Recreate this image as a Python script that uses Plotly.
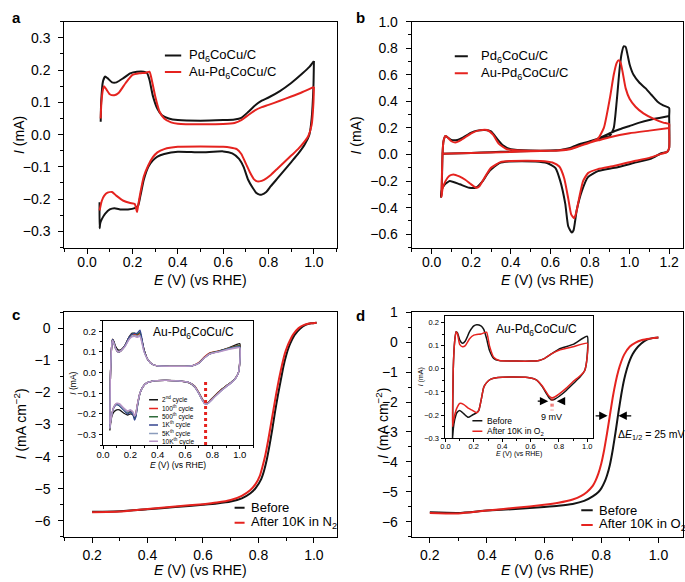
import plotly.graph_objects as go

W, H = 685, 582
FONT = "Liberation Sans, Arial, Helvetica, sans-serif"
BLACK = "#141414"
RED = "#e5231f"

# ---------------- Panel a : CV in N2 ----------------
a_pd_an_E = [0.06,0.062,0.07,0.08,0.09,0.11,0.13,0.16,0.19,0.22,0.25,0.265,0.275,0.29,0.31,0.33,0.36,0.40,0.5,0.6,0.65,0.68,0.71,0.74,0.77,0.8,0.85,0.9,0.95,0.98,1.0]
a_pd_an_I = [0.04,0.10,0.165,0.18,0.175,0.162,0.162,0.175,0.19,0.195,0.195,0.19,0.17,0.12,0.08,0.06,0.05,0.045,0.043,0.045,0.047,0.052,0.07,0.09,0.105,0.115,0.135,0.16,0.19,0.21,0.228]
a_pd_ca_E = [1.0,0.998,0.99,0.98,0.96,0.93,0.9,0.87,0.84,0.81,0.79,0.77,0.76,0.745,0.73,0.71,0.69,0.67,0.64,0.6,0.5,0.4,0.34,0.31,0.29,0.27,0.25,0.235,0.225,0.21,0.18,0.15,0.12,0.1,0.08,0.065,0.058,0.055,0.055]
a_pd_ca_I = [0.228,0.15,0.05,0.0,-0.03,-0.06,-0.085,-0.11,-0.135,-0.16,-0.178,-0.186,-0.186,-0.18,-0.165,-0.14,-0.1,-0.075,-0.058,-0.052,-0.055,-0.053,-0.06,-0.068,-0.08,-0.1,-0.14,-0.19,-0.22,-0.228,-0.232,-0.232,-0.228,-0.232,-0.245,-0.262,-0.275,-0.29,-0.21]
a_au_an_E = [0.06,0.063,0.07,0.075,0.085,0.1,0.12,0.14,0.17,0.2,0.23,0.26,0.275,0.285,0.3,0.32,0.34,0.37,0.4,0.5,0.6,0.65,0.68,0.71,0.74,0.77,0.8,0.85,0.9,0.95,1.0]
a_au_an_I = [0.05,0.10,0.14,0.15,0.14,0.125,0.122,0.13,0.16,0.185,0.19,0.192,0.195,0.17,0.12,0.07,0.05,0.038,0.034,0.032,0.033,0.036,0.045,0.06,0.075,0.085,0.092,0.105,0.118,0.132,0.148]
a_au_ca_E = [1.0,0.998,0.99,0.975,0.96,0.93,0.9,0.87,0.84,0.81,0.78,0.76,0.75,0.735,0.72,0.7,0.68,0.66,0.63,0.6,0.5,0.4,0.34,0.31,0.29,0.27,0.25,0.235,0.225,0.22,0.21,0.19,0.16,0.13,0.11,0.09,0.075,0.065,0.058,0.055]
a_au_ca_I = [0.148,0.1,0.03,-0.005,-0.02,-0.045,-0.065,-0.085,-0.105,-0.125,-0.14,-0.145,-0.145,-0.138,-0.12,-0.09,-0.06,-0.045,-0.04,-0.038,-0.037,-0.038,-0.045,-0.055,-0.07,-0.095,-0.13,-0.18,-0.22,-0.24,-0.215,-0.212,-0.205,-0.19,-0.178,-0.18,-0.19,-0.205,-0.225,-0.235]

# ---------------- Panel b : CO stripping ----------------
b_pd_E = [0.05,0.1,0.2,0.3,0.4,0.5,0.6,0.65,0.7,0.75,0.8,0.85,0.9,0.92,0.935,0.95,0.96,0.97,0.98,0.99,1.0,1.02,1.05,1.08,1.11,1.14,1.17,1.2,
          1.2,1.2,1.19,1.16,1.11,1.02,0.925,0.84,0.79,0.76,0.733,0.717,0.708,0.69,0.675,0.65,0.625,0.583,0.525,0.39,0.342,0.292,0.258,0.225,0.19,0.142,0.092,0.067,0.05,0.047,
          0.05,0.055,0.06,0.07,0.08,0.1,0.13,0.16,0.2,0.23,0.27,0.3,0.33,0.36,0.4,0.5,0.6,0.65,0.7,0.75,0.8,0.85,0.9,0.95,1.0,1.05,1.1,1.15,1.2]
b_pd_I = [0.005,0.008,0.012,0.018,0.022,0.026,0.03,0.035,0.045,0.07,0.1,0.12,0.14,0.2,0.4,0.65,0.76,0.815,0.81,0.75,0.68,0.6,0.54,0.5,0.45,0.4,0.37,0.35,
          0.29,0.05,0.02,0.01,-0.03,-0.064,-0.1,-0.125,-0.17,-0.27,-0.42,-0.57,-0.587,-0.54,-0.37,-0.2,-0.1,-0.064,-0.052,-0.052,-0.064,-0.125,-0.2,-0.248,-0.25,-0.224,-0.2,-0.224,-0.27,-0.32,
          -0.3,0.0,0.1,0.14,0.13,0.11,0.11,0.13,0.165,0.18,0.185,0.175,0.12,0.07,0.04,0.03,0.03,0.035,0.05,0.08,0.1,0.125,0.16,0.19,0.215,0.24,0.26,0.275,0.29]
b_au_E = [0.05,0.1,0.2,0.3,0.4,0.5,0.6,0.65,0.7,0.75,0.8,0.84,0.87,0.9,0.92,0.935,0.945,0.955,0.965,0.98,1.0,1.03,1.07,1.12,1.17,1.2,
          1.2,1.2,1.19,1.16,1.1,1.02,0.925,0.84,0.79,0.765,0.745,0.73,0.72,0.705,0.69,0.67,0.645,0.61,0.55,0.4,0.35,0.3,0.265,0.24,0.225,0.2,0.17,0.14,0.11,0.09,0.07,0.055,0.05,
          0.05,0.055,0.06,0.07,0.08,0.1,0.12,0.15,0.2,0.24,0.28,0.31,0.34,0.38,0.45,0.55,0.65,0.7,0.75,0.8,0.85,0.9,1.0,1.1,1.2]
b_au_I = [0.005,0.008,0.012,0.016,0.02,0.024,0.028,0.033,0.042,0.065,0.09,0.12,0.2,0.42,0.6,0.69,0.71,0.69,0.62,0.5,0.42,0.36,0.31,0.27,0.24,0.23,
          0.2,0.05,0.02,0.005,-0.025,-0.05,-0.085,-0.11,-0.14,-0.2,-0.33,-0.44,-0.48,-0.45,-0.33,-0.18,-0.09,-0.06,-0.048,-0.048,-0.055,-0.1,-0.18,-0.24,-0.25,-0.225,-0.19,-0.165,-0.15,-0.16,-0.2,-0.26,-0.32,
          -0.3,0.0,0.1,0.14,0.13,0.1,0.09,0.11,0.16,0.182,0.185,0.15,0.08,0.04,0.03,0.028,0.03,0.04,0.065,0.09,0.11,0.13,0.16,0.18,0.2]

# ---------------- Panel c : ORR LSV before / after 10K in N2 ----------------
c_before_E = [0.2,0.3,0.4,0.5,0.6,0.65,0.7,0.74,0.77,0.79,0.81,0.82,0.83,0.84,0.85,0.86,0.87,0.88,0.89,0.9,0.91,0.92,0.93,0.95,0.97,0.99,1.01]
c_before_I = [-5.72,-5.7,-5.64,-5.57,-5.5,-5.46,-5.4,-5.3,-5.15,-4.98,-4.7,-4.45,-4.1,-3.65,-3.15,-2.6,-2.1,-1.65,-1.2,-0.85,-0.58,-0.38,-0.22,-0.02,0.1,0.15,0.17]
c_after_E = [0.2,0.3,0.4,0.5,0.6,0.65,0.7,0.74,0.77,0.79,0.805,0.815,0.825,0.835,0.845,0.855,0.865,0.875,0.885,0.895,0.905,0.915,0.925,0.945,0.965,0.99,1.01]
c_after_I = [-5.73,-5.71,-5.63,-5.55,-5.48,-5.43,-5.35,-5.22,-5.05,-4.85,-4.6,-4.3,-3.95,-3.5,-3.0,-2.5,-2.0,-1.55,-1.15,-0.8,-0.55,-0.36,-0.2,0.0,0.1,0.15,0.17]

# ---------------- Panel d : ORR LSV before / after 10K in O2 ----------------
d_before_E = [0.2,0.3,0.4,0.5,0.6,0.65,0.7,0.74,0.77,0.79,0.8,0.81,0.82,0.83,0.84,0.85,0.86,0.87,0.88,0.89,0.9,0.91,0.92,0.94,0.96,0.98,1.0]
d_before_I = [-5.68,-5.7,-5.62,-5.57,-5.5,-5.46,-5.4,-5.3,-5.15,-5.0,-4.88,-4.7,-4.45,-4.1,-3.6,-3.0,-2.35,-1.75,-1.25,-0.88,-0.6,-0.4,-0.25,-0.05,0.08,0.13,0.15]
d_after_E = [0.2,0.3,0.4,0.5,0.6,0.65,0.7,0.73,0.75,0.77,0.78,0.79,0.8,0.81,0.82,0.83,0.84,0.85,0.86,0.87,0.88,0.9,0.92,0.94,0.96,0.98,1.0]
d_after_I = [-5.7,-5.72,-5.62,-5.53,-5.43,-5.36,-5.25,-5.13,-5.0,-4.8,-4.62,-4.38,-4.05,-3.6,-3.05,-2.45,-1.85,-1.35,-0.95,-0.65,-0.42,-0.15,-0.02,0.06,0.1,0.13,0.15]

# ---------------- Inset c : CV cycles of Au-Pd6CoCu/C ----------------
ic_E = [0.05,0.055,0.065,0.07,0.08,0.09,0.11,0.13,0.16,0.19,0.21,0.23,0.25,0.27,0.28,0.3,0.33,0.36,0.4,0.5,0.6,0.65,0.7,0.74,0.78,0.85,0.92,1.0,
        1.0,0.99,0.97,0.94,0.9,0.86,0.82,0.79,0.77,0.755,0.74,0.72,0.7,0.67,0.63,0.55,0.45,0.37,0.32,0.29,0.27,0.25,0.24,0.23,0.22,0.2,0.18,0.15,0.12,0.1,0.08,0.065,0.055,0.05]
ic_2nd = [-0.26,0.0,0.14,0.16,0.15,0.13,0.11,0.11,0.13,0.17,0.19,0.19,0.185,0.19,0.17,0.11,0.06,0.04,0.032,0.03,0.03,0.032,0.045,0.07,0.09,0.105,0.12,0.14,
          0.06,0.0,-0.025,-0.045,-0.065,-0.085,-0.11,-0.13,-0.145,-0.15,-0.145,-0.125,-0.1,-0.07,-0.05,-0.04,-0.038,-0.04,-0.05,-0.07,-0.1,-0.16,-0.2,-0.22,-0.205,-0.2,-0.205,-0.195,-0.18,-0.18,-0.19,-0.21,-0.25,-0.28]
ic_100th = [-0.25,0.0,0.14,0.16,0.145,0.12,0.1,0.105,0.13,0.17,0.185,0.185,0.18,0.19,0.17,0.11,0.06,0.04,0.032,0.03,0.03,0.033,0.048,0.075,0.095,0.105,0.118,0.13,
            0.05,0.0,-0.025,-0.045,-0.065,-0.085,-0.11,-0.13,-0.145,-0.148,-0.142,-0.12,-0.095,-0.065,-0.048,-0.04,-0.038,-0.04,-0.05,-0.07,-0.1,-0.16,-0.2,-0.21,-0.195,-0.185,-0.19,-0.175,-0.155,-0.15,-0.165,-0.2,-0.24,-0.27]
ic_500th = [-0.25,0.0,0.14,0.16,0.145,0.12,0.1,0.105,0.13,0.17,0.185,0.19,0.185,0.195,0.17,0.11,0.06,0.04,0.032,0.03,0.03,0.033,0.046,0.072,0.093,0.104,0.118,0.13,
            0.05,0.0,-0.025,-0.045,-0.065,-0.087,-0.112,-0.132,-0.146,-0.15,-0.145,-0.122,-0.097,-0.066,-0.048,-0.04,-0.038,-0.04,-0.05,-0.07,-0.1,-0.17,-0.21,-0.22,-0.2,-0.19,-0.195,-0.18,-0.16,-0.152,-0.165,-0.2,-0.24,-0.27]
ic_1k = [-0.26,0.0,0.14,0.16,0.145,0.12,0.1,0.105,0.13,0.17,0.185,0.19,0.19,0.205,0.18,0.11,0.06,0.04,0.032,0.03,0.03,0.033,0.045,0.07,0.09,0.103,0.116,0.125,
         0.05,0.0,-0.027,-0.048,-0.068,-0.09,-0.115,-0.135,-0.148,-0.152,-0.148,-0.125,-0.1,-0.068,-0.048,-0.04,-0.038,-0.04,-0.05,-0.07,-0.1,-0.17,-0.215,-0.23,-0.205,-0.19,-0.2,-0.18,-0.16,-0.155,-0.17,-0.2,-0.24,-0.27]
ic_5k = [-0.25,0.0,0.14,0.155,0.14,0.12,0.1,0.105,0.125,0.16,0.175,0.18,0.175,0.18,0.16,0.1,0.06,0.04,0.032,0.03,0.03,0.033,0.045,0.07,0.09,0.102,0.114,0.122,
         0.05,0.0,-0.027,-0.048,-0.068,-0.09,-0.115,-0.135,-0.148,-0.152,-0.148,-0.125,-0.1,-0.068,-0.048,-0.04,-0.038,-0.04,-0.05,-0.07,-0.1,-0.16,-0.2,-0.21,-0.195,-0.18,-0.19,-0.175,-0.155,-0.15,-0.165,-0.2,-0.24,-0.27]
ic_10k = [-0.25,0.0,0.14,0.155,0.14,0.118,0.1,0.105,0.125,0.16,0.172,0.175,0.17,0.175,0.155,0.1,0.06,0.04,0.032,0.03,0.03,0.033,0.045,0.07,0.09,0.1,0.112,0.12,
          0.05,0.0,-0.027,-0.048,-0.068,-0.09,-0.115,-0.135,-0.148,-0.152,-0.148,-0.125,-0.1,-0.068,-0.048,-0.04,-0.038,-0.04,-0.05,-0.07,-0.1,-0.16,-0.2,-0.21,-0.19,-0.18,-0.185,-0.17,-0.15,-0.148,-0.165,-0.2,-0.24,-0.27]
ic_labels = ["2<sup>nd</sup> cycle", "100<sup>th</sup> cycle", "500<sup>th</sup> cycle",
             "1K<sup>th</sup> cycle", "5K<sup>th</sup> cycle", "10K<sup>th</sup> cycle"]
ic_colors = [BLACK, RED, "#2f6b3b", "#34448f", "#8b9cbc", "#b894c6"]
ic_peak_E = 0.75

# ---------------- Inset d : CV before / after 10K in O2 ----------------
id_E = [0.05,0.055,0.065,0.075,0.085,0.1,0.12,0.14,0.17,0.2,0.22,0.25,0.27,0.29,0.31,0.34,0.38,0.5,0.6,0.66,0.7,0.75,0.8,0.9,1.0,
        0.995,0.98,0.95,0.9,0.85,0.8,0.77,0.75,0.73,0.71,0.68,0.64,0.58,0.45,0.37,0.32,0.29,0.27,0.25,0.235,0.22,0.19,0.16,0.13,0.1,0.08,0.065,0.055,0.05]
id_before = [-0.3,0.0,0.12,0.16,0.155,0.125,0.11,0.12,0.16,0.185,0.19,0.185,0.17,0.13,0.08,0.045,0.035,0.033,0.033,0.036,0.045,0.065,0.085,0.105,0.14,
             0.03,-0.01,-0.035,-0.065,-0.095,-0.12,-0.132,-0.135,-0.125,-0.105,-0.075,-0.048,-0.038,-0.036,-0.038,-0.045,-0.06,-0.08,-0.14,-0.18,-0.19,-0.2,-0.21,-0.195,-0.18,-0.19,-0.22,-0.26,-0.3]
id_after = [-0.25,0.0,0.12,0.16,0.15,0.105,0.095,0.1,0.13,0.145,0.148,0.15,0.155,0.158,0.1,0.05,0.036,0.033,0.033,0.036,0.045,0.065,0.08,0.095,0.11,
            0.03,-0.01,-0.03,-0.055,-0.085,-0.11,-0.122,-0.125,-0.118,-0.1,-0.072,-0.048,-0.038,-0.036,-0.038,-0.045,-0.06,-0.08,-0.14,-0.18,-0.19,-0.18,-0.17,-0.155,-0.15,-0.17,-0.2,-0.23,-0.25]
id_peak_E = [0.745, 0.758]

fig = go.Figure()

def add(x, y, n, color, width=2.0):
    fig.add_trace(go.Scatter(x=x, y=y, xaxis="x" + n, yaxis="y" + n, mode="lines",
                             line=dict(color=color, width=width, shape="spline", smoothing=0.5),
                             showlegend=False, hoverinfo="skip"))

# a
add(a_pd_an_E, a_pd_an_I, "", BLACK)
add(a_pd_ca_E, a_pd_ca_I, "", BLACK)
add(a_au_an_E, a_au_an_I, "", RED)
add(a_au_ca_E, a_au_ca_I, "", RED)
# b
add(b_pd_E, b_pd_I, "2", BLACK)
add(b_au_E, b_au_I, "2", RED)
# c
add(c_before_E, c_before_I, "3", BLACK)
add(c_after_E, c_after_I, "3", RED)
# d
add(d_before_E, d_before_I, "4", BLACK)
add(d_after_E, d_after_I, "4", RED)
# inset c
for ys, col in zip([ic_2nd, ic_100th, ic_500th, ic_1k, ic_5k, ic_10k], ic_colors):
    add(ic_E, ys, "5", col, 1.3)
fig.add_trace(go.Scatter(x=[ic_peak_E, ic_peak_E], y=[-0.045, -0.35], xaxis="x5", yaxis="y5",
                         mode="lines", line=dict(color=RED, width=3, dash="dot"),
                         showlegend=False, hoverinfo="skip"))
# inset d
add(id_E, id_before, "6", BLACK, 1.5)
add(id_E, id_after, "6", RED, 1.5)
for e in id_peak_E:
    fig.add_trace(go.Scatter(x=[e, e], y=[-0.125, -0.18], xaxis="x6", yaxis="y6",
                             mode="lines", line=dict(color=RED, width=1, dash="dot"),
                             showlegend=False, hoverinfo="skip"))

def px(v):
    return v / W

def py(v):
    return 1 - v / H

def axis(dom, rng, dtick, fmt, minor, size=14, ticklen=5, standoff=3, lw=1.2, **kw):
    d = dict(domain=dom, range=rng, dtick=dtick, tick0=0, tickformat=fmt, showgrid=False,
             zeroline=False, showline=True, mirror=True, linecolor="black", linewidth=lw,
             ticks="outside", ticklen=ticklen, tickwidth=1, tickcolor="black",
             tickfont=dict(family=FONT, size=size, color="black"), ticklabelstandoff=standoff)
    if minor:
        d["minor"] = dict(dtick=minor, ticks="outside", ticklen=max(2, ticklen - 2), tickcolor="black", tickwidth=1)
    d.update(kw)
    return d

lay = dict(width=W, height=H, margin=dict(l=0, r=0, t=0, b=0),
           paper_bgcolor="white", plot_bgcolor="white", font=dict(family=FONT, color="black"))

A_X, B_X = [px(58), px(333)], [px(409), px(683)]
TOP_Y, BOT_Y = [py(245), py(14)], [py(541), py(311)]
lay["xaxis"] = axis(A_X, [-0.1, 1.1], 0.2, ".1f", 0.1, standoff=-3, anchor="y")
lay["yaxis"] = axis(TOP_Y, [-0.35, 0.35], 0.1, ".1f", 0.05, standoff=5, anchor="x")
lay["xaxis2"] = axis(B_X, [-0.1, 1.27], 0.2, ".1f", 0.1, standoff=-3, anchor="y2")
lay["yaxis2"] = axis(TOP_Y, [-0.7, 1.0], 0.2, ".1f", 0.1, standoff=5, anchor="x2")
lay["xaxis3"] = axis(A_X, [0.1, 1.082], 0.2, ".1f", 0.1, standoff=0, anchor="y3")
lay["yaxis3"] = axis(BOT_Y, [-6.5, 0.5], 1, "d", 0.5, standoff=5, anchor="x3")
lay["xaxis4"] = axis(B_X, [0.137, 1.086], 0.2, ".1f", 0.1, standoff=0, anchor="y4")
lay["yaxis4"] = axis(BOT_Y, [-6.5, 1.0], 1, "d", 0.5, standoff=5, anchor="x4")
lay["xaxis5"] = axis([px(97), px(249)], [0, 1.1], 0.2, ".1f", 0.1, size=9.5, ticklen=3, standoff=-2, lw=1, anchor="y5")
lay["yaxis5"] = axis([py(447), py(320)], [-0.35, 0.25], 0.1, ".1f", 0.05, size=9.5, ticklen=3, standoff=1, lw=1, anchor="x5")
lay["xaxis6"] = axis([px(443), px(592)], [0, 1.04], 0.2, ".1f", 0.1, size=7.5, ticklen=3, standoff=-2, lw=1, anchor="y6")
lay["yaxis6"] = axis([py(440), py(315)], [-0.3, 0.228], 0.1, ".1f", 0.05, size=7.5, ticklen=3, standoff=1, lw=1, anchor="x6")
fig.update_layout(**lay)

ann = []
shapes = []

def text(x, y, s, size, xref="paper", yref="paper", xanchor="center", yanchor="middle", angle=0, bold=False):
    if bold:
        s = "<b>" + s + "</b>"
    ann.append(dict(x=x, y=y, xref=xref, yref=yref, text=s, showarrow=False, xanchor=xanchor,
                    yanchor=yanchor, textangle=angle, font=dict(family=FONT, size=size, color="black")))

# panel letters
text(px(3), py(10), "a", 15, xanchor="left", bold=True)
text(px(351), py(10), "b", 15, xanchor="left", bold=True)
text(px(3), py(313), "c", 15, xanchor="left", bold=True)
text(px(351), py(315), "d", 15, xanchor="left", bold=True)

XT = "<i>E</i> (V) (vs RHE)"
text(px(195.5), py(278), XT, 14)
text(px(546), py(278), XT, 14)
text(px(195.5), py(575), XT, 14)
text(px(546), py(575), XT, 14)
text(px(12), py(130), "<i>I</i> (mA)", 14, angle=-90)
text(px(353), py(130), "<i>I</i> (mA)", 14, angle=-90)
text(px(13), py(425), "<i>I</i> (mA cm<sup>−2</sup>)", 14, angle=-90)
text(px(378), py(425), "<i>I</i> (mA cm<sup>−2</sup>)", 14, angle=-90)
# inset axis titles
text(px(173), py(467), XT, 8.5)
text(px(67), py(384), "<i>I</i> (mA)", 8.5, angle=-90)
text(px(517), py(456), XT, 7)
text(px(418), py(377), "<i>I</i> (mA)", 7, angle=-90)

def key(n, x0, x1, y, color, lw=2):
    shapes.append(dict(type="line", xref="x" + n, yref="y" + n, x0=x0, x1=x1, y0=y, y1=y,
                       line=dict(color=color, width=lw)))

# legends
key("", 0.343, 0.415, 0.245, BLACK); text(0.442, 0.245, "Pd<sub>6</sub>CoCu/C", 13, "x", "y", "left")
key("", 0.343, 0.415, 0.194, RED); text(0.442, 0.194, "Au-Pd<sub>6</sub>CoCu/C", 13, "x", "y", "left")
key("2", 0.117, 0.183, 0.74, BLACK); text(0.238, 0.74, "Pd<sub>6</sub>CoCu/C", 13, "x2", "y2", "left")
key("2", 0.117, 0.183, 0.612, RED); text(0.238, 0.612, "Au-Pd<sub>6</sub>CoCu/C", 13, "x2", "y2", "left")
key("3", 0.714, 0.75, -5.59, BLACK); text(0.766, -5.59, "Before", 13, "x3", "y3", "left")
key("3", 0.714, 0.75, -6.06, RED); text(0.766, -6.06, "After 10K in N<sub>2</sub>", 13, "x3", "y3", "left")
key("4", 0.73, 0.77, -5.61, BLACK); text(0.785, -5.61, "Before", 13, "x4", "y4", "left")
key("4", 0.73, 0.77, -6.1, RED); text(0.785, -6.1, "After 10K in O<sub>2</sub>", 13, "x4", "y4", "left")

# inset c
text(0.35, 0.19, "Au-Pd<sub>6</sub>CoCu/C", 12, "x5", "y5", "left")
ic_rows = [-0.131, -0.173, -0.214, -0.253, -0.294, -0.332]
for lab, col, yy in zip(ic_labels, ic_colors, ic_rows):
    key("5", 0.337, 0.402, yy, col, 1.5)
    text(0.414, yy, lab, 6.5, "x5", "y5", "left")

# inset d
text(0.34, 0.169, "Au-Pd<sub>6</sub>CoCu/C", 12, "x6", "y6", "left")
key("6", 0.19, 0.26, -0.225, BLACK, 1.5); text(0.28, -0.225, "Before", 8.5, "x6", "y6", "left")
key("6", 0.19, 0.26, -0.27, RED, 1.5); text(0.28, -0.27, "After 10K in O<sub>2</sub>", 8.5, "x6", "y6", "left")
text(0.745, -0.207, "9 mV", 9, "x6", "y6")
for tail, head in [(0.64, 0.725), (0.85, 0.785)]:
    ann.append(dict(x=head, y=-0.14, ax=tail, ay=-0.14, xref="x6", yref="y6", axref="x6", ayref="y6",
                    text="", showarrow=True, arrowhead=2, arrowsize=1.4, arrowwidth=1.2, arrowcolor="black"))

# panel d delta E
for tail, head in [(0.775, 0.822), (0.91, 0.86)]:
    ann.append(dict(x=head, y=-2.46, ax=tail, ay=-2.46, xref="x4", yref="y4", axref="x4", ayref="y4",
                    text="", showarrow=True, arrowhead=2, arrowsize=1.4, arrowwidth=1.2, arrowcolor="black"))
text(0.852, -3.1, "Δ<i>E</i><sub>1/2</sub> = 25 mV", 10.5, "x4", "y4", "left")

fig.update_layout(annotations=ann, shapes=shapes)
fig.write_html("out.html", config={"displayModeBar": False},
               post_script="document.body.style.margin='0';document.body.style.overflow='hidden';")
